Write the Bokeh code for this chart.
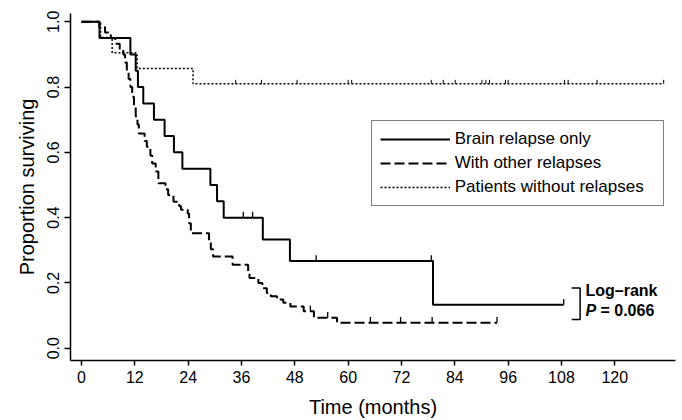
from bokeh.plotting import figure
from bokeh.models import Range1d, FixedTicker, NumeralTickFormatter, Legend, LegendItem
from bokeh.embed import file_html
from bokeh.resources import INLINE
from bokeh.core.properties import value

# ---- data (Kaplan-Meier step curves) ----
x_ticks = [0, 12, 24, 36, 48, 60, 72, 84, 96, 108, 120]
y_ticks = [0.0, 0.2, 0.4, 0.6, 0.8, 1.0]

brain_t = [0, 4.05, 11.0, 12.2, 12.7, 13.9, 16.3, 18.7, 20.8, 22.7, 29.0, 30.5,
           32.0, 40.8, 46.9, 79.1, 108.5]
brain_s = [1.0, 0.95, 0.90, 0.85, 0.80, 0.75, 0.70, 0.65, 0.60, 0.55, 0.50, 0.45,
           0.40, 0.333, 0.267, 0.133, 0.133]

other_t = [0, 4.0, 5.3, 6.6, 7.6, 8.6, 9.4, 9.8, 10.2, 10.6,
           11.0, 11.4, 11.8, 12.2, 12.6, 12.9, 14.2, 14.7, 15.5, 15.9,
           16.7, 17.3, 18.9, 19.5, 20.7, 22.0, 22.4, 23.9, 24.2, 24.6,
           28.7, 29.1, 29.6, 34.0, 37.5, 37.8, 39.8, 40.7, 41.7, 42.6,
           44.0, 45.4, 47.0, 50.0, 52.3, 57.5, 93.5]
other_s = [1.0, 0.983, 0.967, 0.95, 0.933, 0.917, 0.9, 0.875, 0.85, 0.825,
           0.80, 0.77, 0.74, 0.71, 0.685, 0.658, 0.635, 0.617, 0.59, 0.566,
           0.541, 0.505, 0.487, 0.469, 0.449, 0.435, 0.424, 0.413, 0.383, 0.352,
           0.33, 0.303, 0.281, 0.256, 0.232, 0.215, 0.200, 0.184, 0.169, 0.159,
           0.149, 0.139, 0.128, 0.113, 0.093, 0.078, 0.078]

none_t = [0, 4.3, 6.9, 12.5, 25.1, 131.0]
none_s = [1.0, 0.952, 0.905, 0.857, 0.810, 0.810]

brain_cens_t = [36.4, 38.5, 52.8, 78.7, 108.5]
brain_cens_s = [0.40, 0.40, 0.267, 0.267, 0.133]
other_cens_t = [51.5, 55.4, 65.0, 71.8, 78.9, 93.5]
other_cens_s = [0.113, 0.093, 0.078, 0.078, 0.078, 0.078]
none_cens_t = [34.7, 40.5, 48.5, 60.0, 60.8, 78.7, 81.4, 84.1, 90.1, 91.0, 91.8,
               95.4, 96.0, 108.7, 109.5, 116.0, 131.0]
none_cens_s = [0.81, 0.81, 0.81, 0.81, 0.81, 0.81, 0.81, 0.81, 0.81, 0.81, 0.81,
               0.81, 0.81, 0.81, 0.81, 0.81, 0.81]

labels = ["Brain relapse only", "With other relapses", "Patients without relapses"]
FONT = "Liberation Sans"

p = figure(width=682, height=420, output_backend="svg", toolbar_location=None,
           x_range=Range1d(-2.475, 133.66), y_range=Range1d(-0.0376, 1.0253),
           min_border_left=70, min_border_right=7, min_border_top=13, min_border_bottom=59)
p.xgrid.visible = False
p.ygrid.visible = False
p.outline_line_color = None
p.background_fill_color = "white"

p.xaxis.ticker = FixedTicker(ticks=x_ticks)
p.yaxis.ticker = FixedTicker(ticks=y_ticks)
p.yaxis.formatter = NumeralTickFormatter(format="0.0")
p.xaxis.axis_label = "Time (months)"
p.yaxis.axis_label = "Proportion surviving"
for ax in (p.xaxis[0], p.yaxis[0]):
    ax.axis_line_width = 1.5
    ax.axis_line_color = "black"
    ax.major_tick_line_width = 1.5
    ax.major_tick_line_color = "black"
    ax.major_tick_in = 0
    ax.minor_tick_in = 0
    ax.minor_tick_out = 0
    ax.major_label_text_font = FONT
    ax.major_label_text_font_size = "16px"
    ax.major_label_text_color = "black"
    ax.axis_label_text_font = FONT
    ax.axis_label_text_font_size = "20px"
    ax.axis_label_text_font_style = "normal"
    ax.axis_label_text_color = "black"
p.xaxis.major_tick_out = 5
p.yaxis.major_tick_out = 6
p.xaxis.major_label_standoff = 5
p.xaxis.axis_label_standoff = 10
p.yaxis.major_label_standoff = 5
p.yaxis.axis_label_standoff = 7
p.yaxis.major_label_orientation = "vertical"

r1 = p.step(brain_t, brain_s, mode="after", line_color="black", line_width=2)
r2 = p.step(other_t, other_s, mode="after", line_color="black", line_width=2,
            line_dash="10 4")
r3 = p.step(none_t, none_s, mode="after", line_color="black", line_width=1.5,
            line_dash="2 2")

# censoring marks (short upward ticks)
for ts, ss, h, w in ((brain_cens_t, brain_cens_s, 0.018, 1.3),
                     (other_cens_t, other_cens_s, 0.018, 1.3),
                     (none_cens_t, none_cens_s, 0.012, 1.0)):
    p.segment(x0=ts, y0=ss, x1=ts, y1=[s + h for s in ss], line_color="black",
              line_width=w)

legend = Legend(items=[LegendItem(label=labels[0], renderers=[r1]),
                       LegendItem(label=labels[1], renderers=[r2]),
                       LegendItem(label=labels[2], renderers=[r3])],
                location=(300.7, 154.5), border_line_color="black",
                border_line_width=1, background_fill_color="white",
                background_fill_alpha=1.0, label_text_font=FONT,
                label_text_font_size="17px", label_text_color="black",
                glyph_width=70, glyph_height=20, label_height=20, label_width=200,
                spacing=4, padding=8, label_standoff=5, margin=0)
p.add_layout(legend)

# log-rank annotation with bracket
p.line(x=[110.3, 112.2, 112.2, 110.3], y=[0.1845, 0.1845, 0.0877, 0.0877],
       line_color="black", line_width=1.5)
p.text(x=[113.4], y=[0.176], text=["Log\u2013rank"], text_font=value(FONT),
       text_font_size="16px", text_font_style="bold", text_baseline="middle",
       text_align="left", text_color="black")
p.text(x=[113.4], y=[0.115], text=["P"], text_font=value(FONT),
       text_font_size="16px", text_font_style="bold italic", text_baseline="middle",
       text_align="left", text_color="black")
p.text(x=[113.4], y=[0.115], text=["= 0.066"], text_font=value(FONT),
       text_font_size="16px", text_font_style="bold", text_baseline="middle",
       text_align="left", text_color="black", x_offset=15)

open("out.html", "w").write(file_html(p, INLINE))
